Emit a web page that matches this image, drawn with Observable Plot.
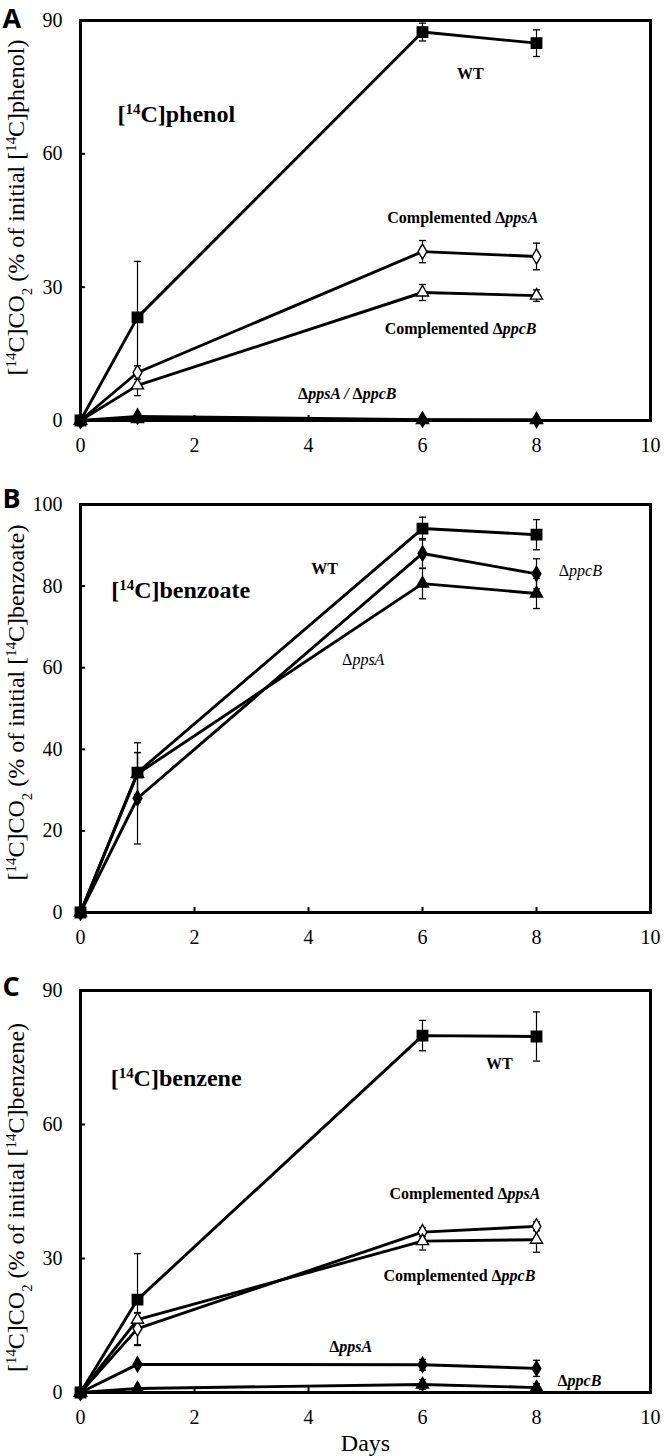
<!DOCTYPE html>
<html>
<head>
<meta charset="utf-8">
<script src="https://cdn.jsdelivr.net/npm/d3@7"></script>
<script src="https://cdn.jsdelivr.net/npm/@observablehq/plot@0.6"></script>
<style>
  html, body { margin: 0; padding: 0; background: #fff; }
  #fig svg { display: block; }
</style>
</head>
<body>
<div id="fig"></div>
<script>
// ---------- data ----------
const days = [0, 1, 6, 8];
const xTicks = [0, 2, 4, 6, 8, 10];

// Panel A: [14C]phenol
const phenolWT = [0, 23.2, 87.4, 84.9];
const phenolWTErr = [0, 12.6, 2.0, 3.0];
const phenolCompPpsA = [0, 10.8, 38.0, 36.9];
const phenolCompPpsAErr = [0, 1.5, 2.5, 3.0];
const phenolCompPpcB = [0, 7.9, 28.8, 28.1];
const phenolCompPpcBErr = [0, 2.3, 1.8, 1.3];
const phenolPpsA = [0, 0.9, 0.2, 0.1];
const phenolPpsAErr = [0, 0, 0, 0];
const phenolPpcB = [0, 0.3, 0.1, 0.1];
const phenolPpcBErr = [0, 0, 0, 0];
const phenolTicks = [0, 30, 60, 90];

// Panel B: [14C]benzoate
const benzoateWT = [0, 34.3, 94.1, 92.6];
const benzoateWTErr = [0, 7.3, 2.8, 3.7];
const benzoatePpcB = [0, 28.0, 88.0, 83.0];
const benzoatePpcBErr = [0, 11.2, 3.6, 3.7];
const benzoatePpsA = [0, 34.0, 80.6, 78.2];
const benzoatePpsAErr = [0, 5.2, 3.7, 3.7];
const benzoateTicks = [0, 20, 40, 60, 80, 100];

// Panel C: [14C]benzene
const benzeneWT = [0, 20.8, 79.9, 79.7];
const benzeneWTErr = [0, 10.3, 3.4, 5.5];
const benzeneCompPpsA = [0, 14.3, 35.9, 37.2];
const benzeneCompPpsAErr = [0, 3.6, 1.0, 1.0];
const benzeneCompPpcB = [0, 16.3, 33.9, 34.2];
const benzeneCompPpcBErr = [0, 1.5, 2.0, 2.8];
const benzenePpsA = [0, 6.3, 6.2, 5.4];
const benzenePpsAErr = [0, 0.5, 1.2, 1.8];
const benzenePpcB = [0, 0.9, 1.8, 1.1];
const benzenePpcBErr = [0, 0.3, 1.1, 0.9];
const benzeneTicks = [0, 30, 60, 90];

// annotation texts (day, value anchor points in data units)
const labelsA = [
  {text: "[^{14}C]phenol", day: 0.65, value: 69, kind: "title"},
  {text: "WT", day: 6.84, value: 78, kind: "mid"},
  {text: "Complemented Δ<i>ppsA</i>", day: 8.03, value: 45.7, kind: "end"},
  {text: "Complemented Δ<i>ppcB</i>", day: 8.0, value: 20.7, kind: "end"},
  {text: "Δ<i>ppsA / </i>Δ<i>ppcB</i>", day: 4.68, value: 6, kind: "mid"}
];
const labelsB = [
  {text: "[^{14}C]benzoate", day: 0.54, value: 78.9, kind: "title"},
  {text: "WT", day: 4.28, value: 84.3, kind: "mid"},
  {text: "Δ<i>ppcB</i>", day: 8.39, value: 83.8, kind: "startLight"},
  {text: "Δ<i>ppsA</i>", day: 4.96, value: 61.8, kind: "midLight"}
];
const labelsC = [
  {text: "[^{14}C]benzene", day: 0.53, value: 70.3, kind: "title"},
  {text: "WT", day: 7.35, value: 73.6, kind: "mid"},
  {text: "Complemented Δ<i>ppsA</i>", day: 8.07, value: 44.5, kind: "end"},
  {text: "Complemented Δ<i>ppcB</i>", day: 7.98, value: 26, kind: "end"},
  {text: "Δ<i>ppsA</i>", day: 4.74, value: 10.3, kind: "mid"},
  {text: "Δ<i>ppcB</i>", day: 8.37, value: 2.7, kind: "start"}
];

// ---------- styles ----------
const markerStyles = {
  filledSquare: {symbol: "square", r: 5.9, fill: "black"},
  openDiamond: {symbol: "diamond", r: 4.6, fill: "white"},
  openTriangle: {symbol: "triangle", r: 4.5, fill: "white"},
  filledDiamond: {symbol: "diamond", r: 4.6, fill: "black"},
  filledTriangle: {symbol: "triangle", r: 4.5, fill: "black"}
};
const labelStyles = {
  title: {textAnchor: "start", fontSize: 24, fontWeight: "bold"},
  mid: {textAnchor: "middle", fontSize: 16, fontWeight: "bold"},
  end: {textAnchor: "end", fontSize: 16, fontWeight: "bold"},
  start: {textAnchor: "start", fontSize: 16, fontWeight: "bold"},
  startLight: {textAnchor: "start", fontSize: 16, fontWeight: "normal"},
  midLight: {textAnchor: "middle", fontSize: 16, fontWeight: "normal"}
};
const cap = {draw(ctx) { ctx.moveTo(-3.5, 0); ctx.lineTo(3.5, 0); }};
const serif = "'Liberation Serif', 'Times New Roman', serif";

function richify(svg) {
  d3.select(svg).selectAll("text").each(function () {
    const s = this.textContent;
    if (!/[\^_]\{|<i>/.test(s)) return;
    const el = d3.select(this);
    el.text(null);
    const re = /\^\{([^}]*)\}|_\{([^}]*)\}|<i>([^<]*)<\/i>|([^\^_<]+|[\^_<])/g;
    let m;
    while ((m = re.exec(s))) {
      if (m[1] != null) el.append("tspan").attr("baseline-shift", "super").attr("font-size", "62%").text(m[1]);
      else if (m[2] != null) el.append("tspan").attr("baseline-shift", "sub").attr("font-size", "62%").text(m[2]);
      else if (m[3] != null) el.append("tspan").attr("font-style", "italic").text(m[3]);
      else el.append("tspan").text(m[4]);
    }
  });
}

function build(cfg) {
  const rows = [];
  for (const [name, vals, errs] of cfg.series) {
    vals.forEach((v, i) => rows.push({series: name, day: days[i], value: v, err: errs[i]}));
  }
  const errRows = rows.filter(d => d.err > 0);
  const marks = [
    Plot.ruleX(errRows, {x: "day", y1: d => d.value - d.err, y2: d => d.value + d.err, stroke: "black", strokeWidth: 1.2}),
    Plot.dot(errRows, {x: "day", y: d => d.value + d.err, symbol: cap, stroke: "black", fill: "none", strokeWidth: 1.3}),
    Plot.dot(errRows, {x: "day", y: d => d.value - d.err, symbol: cap, stroke: "black", fill: "none", strokeWidth: 1.3}),
    Plot.line(rows, {x: "day", y: "value", z: "series", stroke: "black", strokeWidth: 2.9}),
    ...cfg.series.map(([name]) => {
      const m = markerStyles[cfg.markers[name]];
      return Plot.dot(rows.filter(d => d.series === name), {
        x: "day", y: "value", symbol: m.symbol, r: m.r, fill: m.fill, stroke: "black", strokeWidth: 1.4
      });
    }),
    Plot.frame({stroke: "black", strokeWidth: 3}),
    Plot.axisX({ticks: xTicks, tickSize: -5, tickPadding: 22, label: null, strokeWidth: 2}),
    Plot.axisY({ticks: cfg.yTicks, tickSize: -5, tickPadding: 23, label: null, strokeWidth: 2}),
    ...cfg.labels.map(l => Plot.text([l], {
      x: "day", y: "value", text: "text", lineAnchor: "middle", fill: "black", fontFamily: serif, ...labelStyles[l.kind]
    })),
    Plot.text([cfg.yLabel], {
      text: d => d, frameAnchor: "left", rotate: -90, dx: -64, dy: cfg.yLabelDy, fontFamily: serif,
      fontSize: 24, textAnchor: "middle", lineAnchor: "middle", fill: "black"
    }),
    Plot.text([cfg.letter], {
      text: d => d, frameAnchor: "top-left", dx: -78, dy: cfg.letterDy, textAnchor: "start", lineAnchor: "top",
      fontFamily: "'Open Sans', 'DejaVu Sans', sans-serif", fontWeight: "bold", fontSize: 27, fill: "black"
    })
  ];
  if (cfg.xLabel) {
    marks.push(Plot.text([cfg.xLabel], {
      text: d => d, frameAnchor: "bottom", dy: 51, fontSize: 24, fontFamily: serif, lineAnchor: "middle", fill: "black"
    }));
  }
  const svg = Plot.plot({
    width: 666,
    height: cfg.height,
    marginLeft: 80,
    marginRight: 16,
    marginTop: cfg.marginTop,
    marginBottom: cfg.marginBottom,
    style: {fontFamily: serif, fontSize: "20px", color: "black", background: "white", overflow: "visible"},
    x: {domain: [0, 10]},
    y: {domain: cfg.yDomain},
    marks
  });
  richify(svg);
  document.getElementById("fig").appendChild(svg);
}

build({
  letter: "A", letterDy: -12, height: 480, marginTop: 20, marginBottom: 60,
  yDomain: [0, 90], yTicks: phenolTicks,
  yLabel: "[^{14}C]CO_{2} (% of initial [^{14}C]phenol)", yLabelDy: -13,
  series: [
    ["WT", phenolWT, phenolWTErr],
    ["Complemented ΔppsA", phenolCompPpsA, phenolCompPpsAErr],
    ["Complemented ΔppcB", phenolCompPpcB, phenolCompPpcBErr],
    ["ΔppsA", phenolPpsA, phenolPpsAErr],
    ["ΔppcB", phenolPpcB, phenolPpcBErr]
  ],
  markers: {"WT": "filledSquare", "Complemented ΔppsA": "openDiamond", "Complemented ΔppcB": "openTriangle", "ΔppsA": "filledDiamond", "ΔppcB": "filledTriangle"},
  labels: labelsA
});

build({
  letter: "B", letterDy: -16, height: 480, marginTop: 24, marginBottom: 48,
  yDomain: [0, 100], yTicks: benzoateTicks,
  yLabel: "[^{14}C]CO_{2} (% of initial [^{14}C]benzoate)", yLabelDy: -6,
  series: [
    ["WT", benzoateWT, benzoateWTErr],
    ["ΔppcB", benzoatePpcB, benzoatePpcBErr],
    ["ΔppsA", benzoatePpsA, benzoatePpsAErr]
  ],
  markers: {"WT": "filledSquare", "ΔppcB": "filledDiamond", "ΔppsA": "filledTriangle"},
  labels: labelsB
});

build({
  letter: "C", letterDy: -14, height: 496, marginTop: 30, marginBottom: 64,
  yDomain: [0, 90], yTicks: benzeneTicks,
  yLabel: "[^{14}C]CO_{2} (% of initial [^{14}C]benzene)", yLabelDy: 6,
  xLabel: "Days",
  series: [
    ["WT", benzeneWT, benzeneWTErr],
    ["Complemented ΔppsA", benzeneCompPpsA, benzeneCompPpsAErr],
    ["Complemented ΔppcB", benzeneCompPpcB, benzeneCompPpcBErr],
    ["ΔppsA", benzenePpsA, benzenePpsAErr],
    ["ΔppcB", benzenePpcB, benzenePpcBErr]
  ],
  markers: {"WT": "filledSquare", "Complemented ΔppsA": "openDiamond", "Complemented ΔppcB": "openTriangle", "ΔppsA": "filledDiamond", "ΔppcB": "filledTriangle"},
  labels: labelsC
});
</script>
</body>
</html>
